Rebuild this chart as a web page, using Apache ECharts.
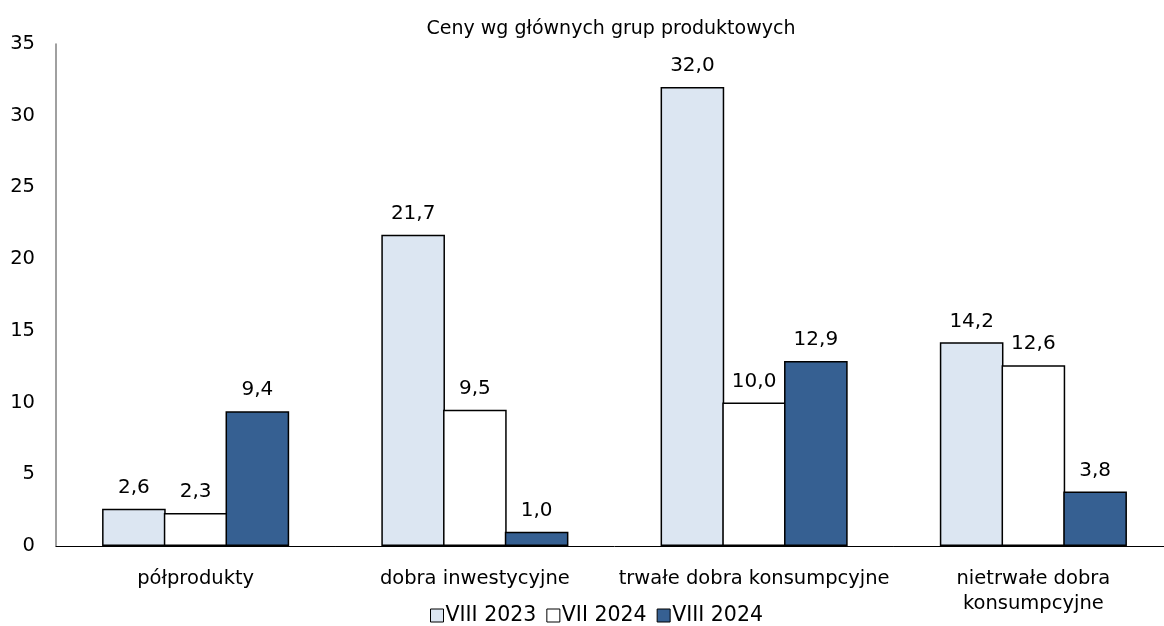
<!DOCTYPE html>
<html>
<head>
<meta charset="utf-8">
<script src="https://cdn.jsdelivr.net/npm/echarts@6/dist/echarts.min.js"></script>
<style>
  html, body { margin: 0; padding: 0; background: #fff; overflow: hidden; }
  #chart { width: 1180px; height: 626px; }
</style>
</head>
<body>
<div id="chart"></div>
<script>
const categories = ['półprodukty', 'dobra inwestycyjne', 'trwałe dobra konsumpcyjne', 'nietrwałe dobra\nkonsumpcyjne']
const seriesNames = ['VIII 2023', 'VII 2024', 'VIII 2024']
const viii2023 = [2.6, 21.7, 32.0, 14.2]
const vii2024 = [2.3, 9.5, 10.0, 12.6]
const viii2024 = [9.4, 1.0, 12.9, 3.8]
const colors = ['#dce6f2', '#ffffff', '#366092']

const font = 'DejaVu Sans'

const makeSeries = (name, values, color) => ({
  name: name,
  type: 'bar',
  data: values,
  barCategoryGap: '33%',
  barGap: '-3%',
  itemStyle: {
    color: color,
    borderColor: '#000',
    borderWidth: 1.5
  },
  label: {
    show: true,
    position: 'top',
    distance: 11,
    color: '#000',
    fontFamily: font,
    fontSize: 20,
    formatter: p => p.value.toFixed(1).replace('.', ',')
  }
})

const option = {
  animation: false,
  title: {
    text: 'Ceny wg głównych grup produktowych',
    left: 606,
    top: 15,
    textAlign: 'center',
    textStyle: {
      fontFamily: font,
      fontSize: 19,
      fontWeight: 'normal',
      color: '#000'
    }
  },
  legend: {
    bottom: 0,
    left: 430,
    padding: 0,
    icon: 'rect',
    itemWidth: 13,
    itemHeight: 13,
    itemGap: 10,
    textStyle: {
      fontFamily: font,
      fontSize: 20.5,
      color: '#000',
      padding: [0, 0, 0, -3]
    },
    itemStyle: {
      borderColor: '#000',
      borderWidth: 1
    },
    data: seriesNames
  },
  grid: {
    left: 56,
    right: 7,
    top: 44,
    bottom: 80,
    containLabel: false
  },
  xAxis: {
    type: 'category',
    data: categories,
    axisLine: { lineStyle: { color: '#000', width: 1 } },
    axisTick: { show: false },
    axisLabel: {
      interval: 0,
      margin: 20,
      color: '#000',
      fontFamily: font,
      fontSize: 19.5,
      lineHeight: 25
    }
  },
  yAxis: {
    type: 'value',
    min: 0,
    max: 35,
    interval: 5,
    axisLine: { show: true, lineStyle: { color: '#808080', width: 1.5 } },
    axisTick: { show: false },
    splitLine: { show: false },
    axisLabel: {
      margin: 21,
      color: '#000',
      fontFamily: font,
      fontSize: 19.5
    }
  },
  series: [
    makeSeries(seriesNames[0], viii2023, colors[0]),
    makeSeries(seriesNames[1], vii2024, colors[1]),
    makeSeries(seriesNames[2], viii2024, colors[2])
  ]
}

const chart = echarts.init(document.getElementById('chart'))
chart.setOption(option)
</script>
</body>
</html>
